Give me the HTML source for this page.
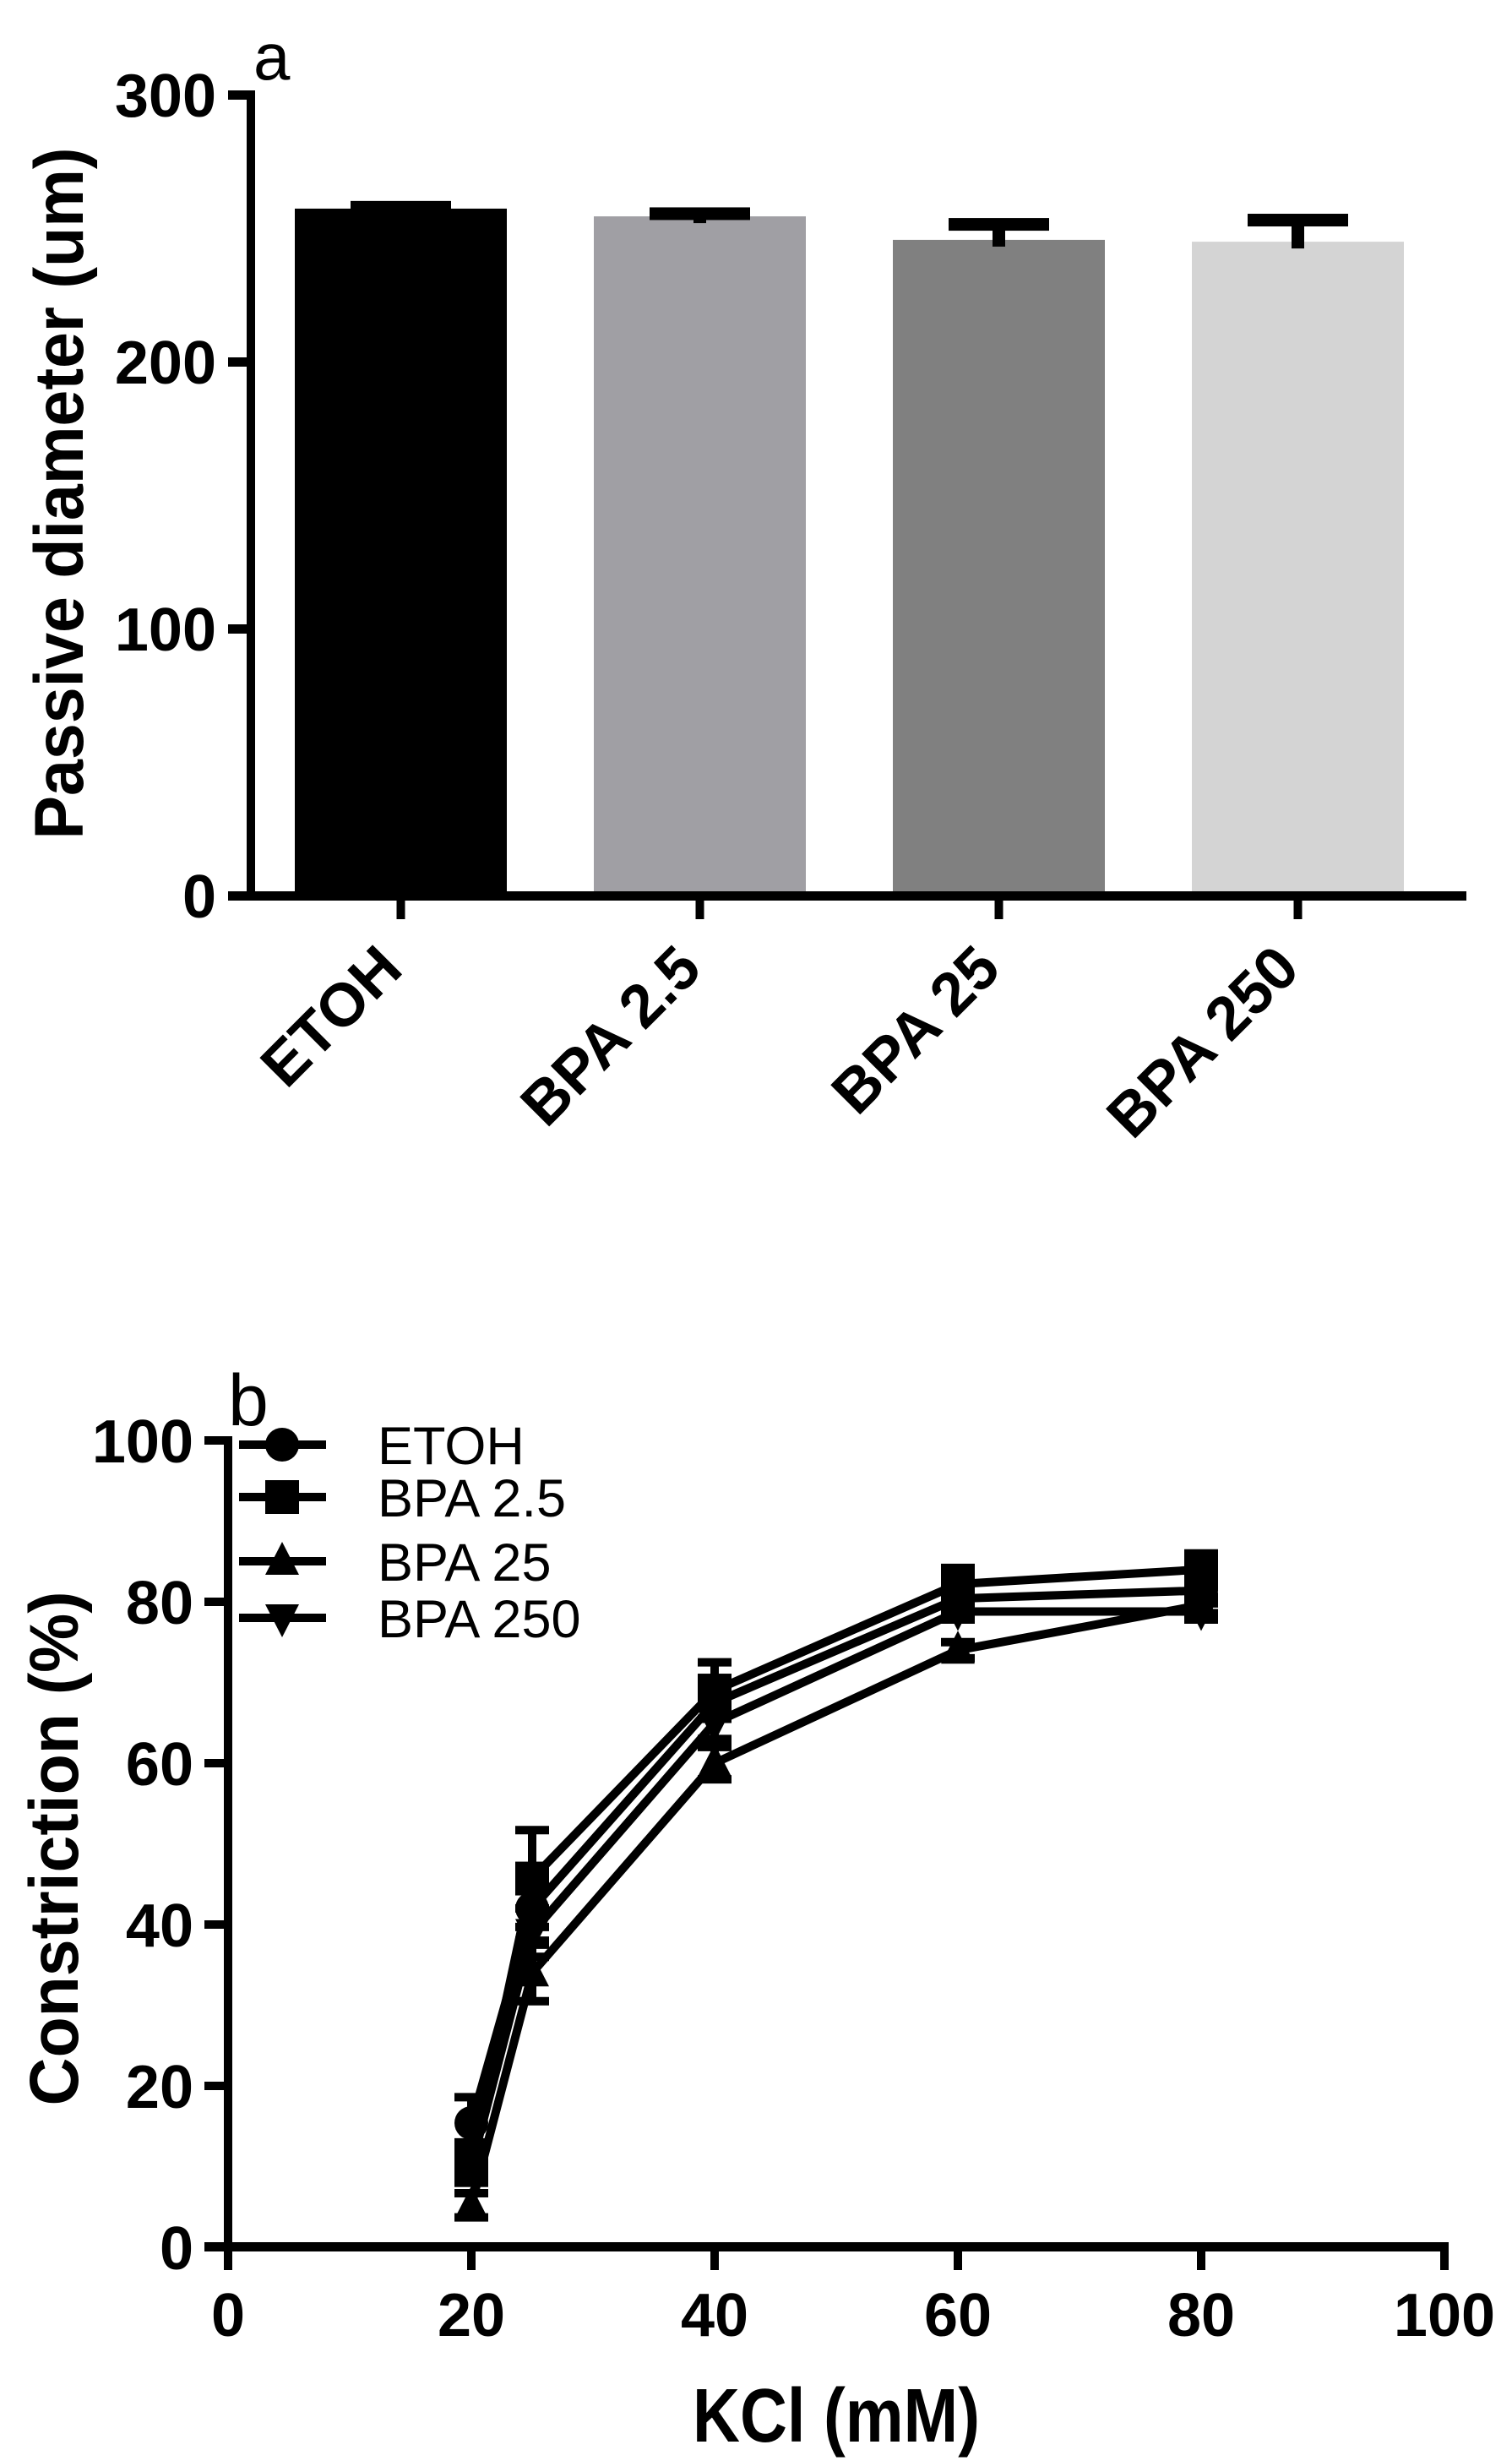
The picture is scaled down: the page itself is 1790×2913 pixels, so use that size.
<!DOCTYPE html>
<html><head><meta charset="utf-8"><style>
html,body{margin:0;padding:0;background:#fff}
svg{display:block}
text{font-family:"Liberation Sans",Arial,sans-serif}
</style></head><body>
<svg id="fig" width="1790" height="2913" viewBox="0 0 1790 2913" xmlns="http://www.w3.org/2000/svg">
<g id="chartA"></g>
<g id="chartB"></g>
</svg>
<script>
// ---- Chart A data ----
const barCategories = ["ETOH", "BPA 2.5", "BPA 25", "BPA 250"];
const barValues = [257.3, 254.4, 245.6, 244.9];
const barErrors = [0.5, 1.0, 5.8, 8.1];
const barColors = ["#000000", "#a09fa4", "#808080", "#d4d4d4"];
const barYTicks = [0, 100, 200, 300];

// ---- Chart B data ----
const kclX = [20, 25, 40, 60, 80];
const seriesNames = ["ETOH", "BPA 2.5", "BPA 25", "BPA 250"];
const etohVals = [15.4, 42, 67.5, 80.4, 81.4];
const etohErr = [3.2, 4, 2, 1.5, 1.5];
const bpa25Vals = [10.5, 45.7, 69, 82.2, 84];
const bpa25Err = [2.5, 6, 3.5, 2, 2];
const bpa250Vals = [5.2, 34, 60, 74, 79.6];
const bpa250Err = [1.5, 3.5, 2, 1, 1];
const bpa2500Vals = [10, 39, 65, 78.8, 78.8];
const bpa2500Err = [2, 3, 2, 1, 1];
const lineXTicks = [0, 20, 40, 60, 80, 100];
const lineYTicks = [0, 20, 40, 60, 80, 100];

const NS = "http://www.w3.org/2000/svg";
function mk(parent, tag, attrs, txt) {
  const e = document.createElementNS(NS, tag);
  for (const k in attrs) e.setAttribute(k, attrs[k]);
  if (txt !== undefined) e.textContent = txt;
  parent.appendChild(e);
  return e;
}

// ===== Chart A =====
(function(){
  const g = document.getElementById("chartA");
  const x0 = 297, xEnd = 1736, y0 = 1060, yTop = 112, yMax = 300;
  const yS = v => y0 - (v / yMax) * (y0 - yTop);
  const barW = 251, firstC = 474.5, step = 354;
  const xC = i => firstC + i * step;

  barValues.forEach((v, i) => {
    const r = mk(g, "rect", {x: xC(i) - barW/2, y: yS(v), width: barW, height: y0 - yS(v), fill: barColors[i]});
    
    
    const top = yS(v + barErrors[i]);
    const st = mk(g, "rect", {x: xC(i) - 7.5, y: top, width: 15, height: yS(v) - top + 8, fill: "#000"});
    
    
    const cp = mk(g, "rect", {x: xC(i) - 59.5, y: top - 7.5, width: 119, height: 15, fill: "#000"});
    
    
  });

  const ya = mk(g, "rect", {x: x0 - 5, y: yTop - 5, width: 10, height: y0 - yTop + 11, fill: "#000"});
  
  
  const xa = mk(g, "rect", {x: x0 - 5, y: y0 - 5, width: xEnd - x0 + 5, height: 11, fill: "#000"});
  
  

  barYTicks.forEach(t => {
    const tk = mk(g, "rect", {x: 270, y: yS(t) - 5, width: 30, height: 11, fill: "#000"});
    
    
    const lb = mk(g, "text", {x: 256, y: yS(t) + 26, "text-anchor": "end", "font-size": 72, "font-weight": "bold"}, String(t));
    
    
  });
  barCategories.forEach((c, i) => {
    const tk = mk(g, "rect", {x: xC(i) - 5, y: y0, width: 10, height: 28, fill: "#000"});
    
    
    const ax = xC(i) + 5, ay = 1150;
    const lb = mk(g, "text", {x: ax, y: ay, "text-anchor": "end", "font-size": 72, "font-weight": "bold", transform: `rotate(-45 ${ax} ${ay})`}, c);
    
    
  });
  const tt = mk(g, "text", {x: 98, y: 584, "text-anchor": "middle", "font-size": 82, "font-weight": "bold", textLength: 819, lengthAdjust: "spacingAndGlyphs", transform: "rotate(-90 98 584)"}, "Passive diameter (um)");
  
  
  const pl = mk(g, "text", {x: 300, y: 94, "font-size": 78}, "a");
  
  
})();

// ===== Chart B =====
(function(){
  const g = document.getElementById("chartB");
  const x0 = 270, x100 = 1710, y0 = 2660, y100 = 1705;
  const xS = v => x0 + v / 100 * (x100 - x0);
  const yS = v => y0 - v / 100 * (y0 - y100);
  const vals = [etohVals, bpa25Vals, bpa250Vals, bpa2500Vals];
  const errs = [etohErr, bpa25Err, bpa250Err, bpa2500Err];
  const shapes = ["circle", "square", "up", "down"];

  function marker(par, shape, cx, cy, name) {
    let e;
    if (shape === "circle") e = mk(par, "circle", {cx: cx, cy: cy, r: 20, fill: "#000"});
    else if (shape === "square") e = mk(par, "rect", {x: cx - 20, y: cy - 20, width: 40, height: 40, fill: "#000"});
    else if (shape === "up") e = mk(par, "polygon", {points: `${cx},${cy-23} ${cx+20},${cy+16} ${cx-20},${cy+16}`, fill: "#000"});
    else e = mk(par, "polygon", {points: `${cx},${cy+23} ${cx+20},${cy-16} ${cx-20},${cy-16}`, fill: "#000"});
    
    
  }

  vals.forEach((s, si) => {
    const sg = mk(g, "g", {});
    
    
    s.forEach((v, i) => {
      const cx = xS(kclX[i]);
      const hi = yS(v + errs[si][i]), lo = yS(v - errs[si][i]);
      const eb = mk(sg, "path", {d: `M${cx},${lo}V${hi}M${cx-20},${hi}H${cx+20}M${cx-20},${lo}H${cx+20}`, stroke: "#000", "stroke-width": 10, fill: "none"});
      
      
    });
    const d = s.map((v, i) => (i ? "L" : "M") + xS(kclX[i]) + "," + yS(v)).join("");
    const ln = mk(sg, "path", {d: d, stroke: "#000", "stroke-width": 10, fill: "none", "stroke-linejoin": "round"});
    
    
    s.forEach((v, i) => marker(sg, shapes[si], xS(kclX[i]), yS(v), 'data-point'));
  });

  const ya = mk(g, "rect", {x: 265, y: y100 - 5, width: 10, height: y0 - y100 + 10, fill: "#000"});
  
  
  const xa = mk(g, "rect", {x: 242, y: 2654, width: x100 - 242 + 5, height: 11, fill: "#000"});
  
  

  lineYTicks.forEach(t => {
    const tk = mk(g, "rect", {x: 242, y: yS(t) - 5, width: 30, height: 10, fill: "#000"});
    
    
    const lb = mk(g, "text", {x: 229, y: yS(t) + 26, "text-anchor": "end", "font-size": 72, "font-weight": "bold"}, String(t));
    
    
  });
  lineXTicks.forEach(t => {
    const tk = mk(g, "rect", {x: xS(t) - 5, y: y0, width: 10, height: 27, fill: "#000"});
    
    
    const lb = mk(g, "text", {x: xS(t), y: 2765, "text-anchor": "middle", "font-size": 72, "font-weight": "bold"}, String(t));
    
    
  });

  const legYs = [1710, 1772, 1848, 1915];
  seriesNames.forEach((n, i) => {
    const lg = mk(g, "g", {});
    
    
    const l = mk(lg, "rect", {x: 283, y: legYs[i] - 5, width: 103, height: 10, fill: "#000"});
    
    
    marker(lg, shapes[i], 334, legYs[i], 'legend-marker');
    const t = mk(lg, "text", {x: 447, y: legYs[i] + 23, "font-size": 63}, n);
    
    
  });

  const ty = mk(g, "text", {x: 92, y: 2188, "text-anchor": "middle", "font-size": 82, "font-weight": "bold", textLength: 609, lengthAdjust: "spacingAndGlyphs", transform: "rotate(-90 92 2188)"}, "Constriction (%)");
  
  
  const tx = mk(g, "text", {x: 990, y: 2890, "text-anchor": "middle", "font-size": 90, "font-weight": "bold", textLength: 340, lengthAdjust: "spacingAndGlyphs"}, "KCl (mM)");
  
  
  const pl = mk(g, "text", {x: 270, y: 1687, "font-size": 86}, "b");
  
  
})();
</script>
</body></html>
